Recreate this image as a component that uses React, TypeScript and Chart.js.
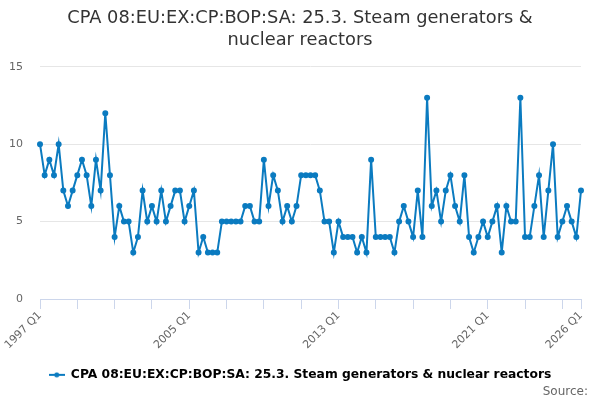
import { useEffect, useRef } from "react";
import { Chart, registerables } from "chart.js";

Chart.register(...registerables);

const years = Array.from({ length: 30 }, (_, i) => 1997 + i);
const quarters: string[] = years.flatMap((y) => [`${y} Q1`, `${y} Q2`, `${y} Q3`, `${y} Q4`]).slice(0, 117);

const values: number[] = [
  10, 8, 9, 8, 10, 7, 6, 7, 8, 9, 8, 6, 9, 7, 12, 8, // 1997-2000
  4, 6, 5, 5, 3, 4, 7, 5, 6, 5, 7, 5, 6, 7, 7, 5, // 2001-2004
  6, 7, 3, 4, 3, 3, 3, 5, 5, 5, 5, 5, 6, 6, 5, 5, // 2005-2008
  9, 6, 8, 7, 5, 6, 5, 6, 8, 8, 8, 8, 7, 5, 5, 3, // 2009-2012
  5, 4, 4, 4, 3, 4, 3, 9, 4, 4, 4, 4, 3, 5, 6, 5, // 2013-2016
  4, 7, 4, 13, 6, 7, 5, 7, 8, 6, 5, 8, 4, 3, 4, 5, // 2017-2020
  4, 5, 6, 3, 6, 5, 5, 13, 4, 4, 6, 8, 4, 7, 10, 4, // 2021-2024
  5, 6, 5, 4, 7, // 2025-2026 Q1
];

const yTicks = [0, 5, 10, 15];
const titleLines = ["CPA 08:EU:EX:CP:BOP:SA: 25.3. Steam generators &", "nuclear reactors"];
const seriesName = "CPA 08:EU:EX:CP:BOP:SA: 25.3. Steam generators & nuclear reactors";
const sourceText = "Source:";

const lineColor = "#0b7bc0";
const font = "'DejaVu Sans', sans-serif";

// legend symbol: short line with a dot in the middle
const legendIcon = () => {
  const c = document.createElement("canvas");
  c.width = 16;
  c.height = 6;
  const g = c.getContext("2d")!;
  g.strokeStyle = lineColor;
  g.lineWidth = 2;
  g.beginPath();
  g.moveTo(0, 3);
  g.lineTo(16, 3);
  g.stroke();
  g.fillStyle = lineColor;
  g.beginPath();
  g.arc(8, 3, 2.5, 0, Math.PI * 2);
  g.fill();
  return c;
};

// "Source:" credit in the bottom right corner
const sourcePlugin = {
  id: "sourceText",
  afterDraw: (chart: any) => {
    const ctx = chart.ctx;
    ctx.save();
    ctx.font = `12px ${font}`;
    ctx.fillStyle = "#666666";
    ctx.textAlign = "right";
    ctx.textBaseline = "middle";
    ctx.fillText(sourceText, chart.width - 12, chart.height - 8);
    ctx.restore();
  },
};

const App = () => {
  const chartRef = useRef<HTMLCanvasElement | null>(null);

  useEffect(() => {
    document.body.style.margin = "0";
    const last = quarters.length - 1;
    const icon = legendIcon();

    const chart = new Chart(chartRef.current!, {
      type: "line",
      data: {
        labels: quarters,
        datasets: [
          {
            label: seriesName,
            data: values,
            borderColor: lineColor,
            backgroundColor: lineColor,
            borderWidth: 2,
            pointRadius: 2,
            pointHoverRadius: 3,
            pointStyle: "circle",
            tension: 0,
          },
        ],
      },
      options: {
        animation: false,
        responsive: true,
        maintainAspectRatio: false,
        layout: { padding: { left: 0, right: 0, top: 4, bottom: 9 } },
        plugins: {
          title: {
            display: true,
            text: titleLines,
            color: "#333333",
            font: { family: font, size: 17.8, weight: "normal", lineHeight: 1.2 },
            padding: { top: 4, bottom: 16 },
          },
          legend: {
            position: "bottom",
            labels: {
              color: "#333333",
              font: { family: font, size: 12.3, weight: "bold" },
              usePointStyle: true,
              pointStyleWidth: 16,
              padding: 2,
              generateLabels: () => [
                {
                  text: seriesName,
                  pointStyle: icon,
                  fillStyle: lineColor,
                  strokeStyle: lineColor,
                  lineWidth: 0,
                  hidden: false,
                  datasetIndex: 0,
                },
              ],
            },
          },
          tooltip: { enabled: false },
        },
        scales: {
          x: {
            type: "category",
            offset: false,
            afterFit: (axis: any) => {
              axis.height += 15;
            },
            grid: {
              drawOnChartArea: false,
              drawTicks: true,
              tickLength: 10,
              color: (ctx: any) => (ctx.index % 8 === 0 || ctx.index === last ? "#ccd6eb" : "rgba(0,0,0,0)"),
            },
            border: { display: true, color: "#ccd6eb" },
            ticks: {
              autoSkip: false,
              maxRotation: 45,
              minRotation: 45,
              padding: 0,
              color: "#666666",
              font: { family: font, size: 11 },
              callback: (_v: any, i: number) => (i % 32 === 0 || i === last ? quarters[i] : ""),
            },
          },
          y: {
            min: 0,
            max: 15,
            afterBuildTicks: (axis: any) => {
              axis.ticks = yTicks.map((v) => ({ value: v }));
            },
            afterFit: (axis: any) => {
              axis.width = 40;
            },
            grid: { color: "#e6e6e6", drawTicks: false },
            border: { display: false },
            ticks: {
              padding: 17,
              color: "#666666",
              font: { family: font, size: 11 },
            },
          },
          // empty right-hand axis, only to keep the plot clear of the right edge
          yRight: {
            position: "right",
            min: 0,
            max: 15,
            grid: { display: false, drawTicks: false },
            border: { display: false },
            ticks: { display: false },
            afterFit: (axis: any) => {
              axis.width = 19;
            },
          },
        },
      },
      plugins: [sourcePlugin],
    });

    return () => chart.destroy();
  }, []);

  return (
    <div style={{ width: "600px", height: "400px", position: "relative" }}>
      <canvas ref={chartRef} />
    </div>
  );
};

export default App;
